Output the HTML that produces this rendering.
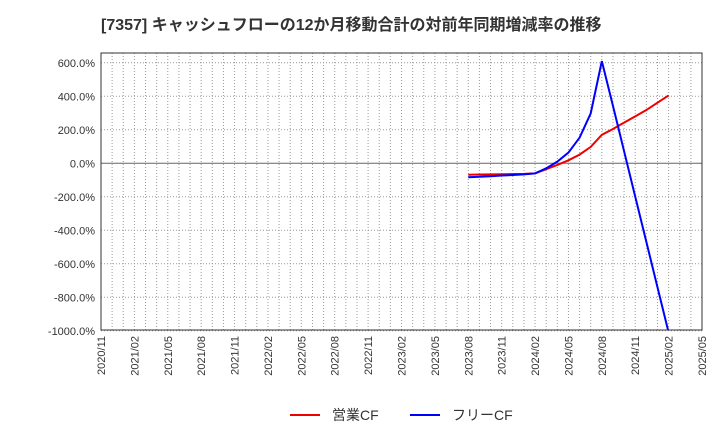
<!DOCTYPE html>
<html><head><meta charset="utf-8"><style>
body{margin:0;background:#fff;font-family:"Liberation Sans","Noto Sans CJK JP",sans-serif}
svg text{font-family:"Liberation Sans","Noto Sans CJK JP",sans-serif}
</style></head><body>
<svg id="c" width="720" height="440">
<text x="101" y="30" font-size="16" font-weight="bold" fill="#333">[7357]  キャッシュフローの12か月移動合計の対前年同期増減率の推移</text>
<g id="grid"></g><g id="axes"></g><g id="series"></g>
<rect x="101" y="53" width="601" height="277" fill="none" stroke="#333"/>
<g>
<line x1="290" y1="415" x2="320" y2="415" stroke="#e00" stroke-width="2"/>
<text x="332" y="420" font-size="14" fill="#333">営業CF</text>
<line x1="410" y1="415" x2="440" y2="415" stroke="#00f" stroke-width="2"/>
<text x="452" y="420" font-size="14" fill="#333">フリーCF</text>
</g>
</svg>
<script>
const yTicks=[600,400,200,0,-200,-400,-600,-800,-1000];
const xLabels=["2020/11","2021/02","2021/05","2021/08","2021/11","2022/02","2022/05","2022/08","2022/11","2023/02","2023/05","2023/08","2023/11","2024/02","2024/05","2024/08","2024/11","2025/02","2025/05"];
const startMonth=33;
const opCF=[-68,-67,-66,-65,-64,-63,-60,-35,-10,18,52,98,170,205,243,280,318,362,405];
const freeCF=[-83,-80,-77,-73,-70,-66,-60,-30,10,64,153,298,610,343,72,-199,-469,-740,-1010];
const X0=101,X1=702,Y0=53,Y1=330;
const x=m=>X0+(X1-X0)*m/54;
const y=v=>163.3-v*(33.5/200);
const ns="http://www.w3.org/2000/svg";
function mk(t,a,p){const e=document.createElementNS(ns,t);for(const k in a)e.setAttribute(k,a[k]);p.appendChild(e);return e;}
const g=document.getElementById('grid'),ax=document.getElementById('axes'),s=document.getElementById('series');
for(let m=1;m<54;m++){const l=mk('line',{x1:x(m),x2:x(m),y1:Y0,y2:Y1,stroke:'#999','stroke-dasharray':'1,2'},g);

}
yTicks.forEach(v=>{const l=mk('line',{x1:X0,x2:X1,y1:y(v),y2:y(v),stroke:v===0?'#666':'#999','stroke-dasharray':v===0?'':'1,2'},g);


const t=mk('text',{x:X0-6,y:y(v)+4,'text-anchor':'end','font-size':11,fill:'#333'},ax);t.textContent=v.toFixed(1)+'%';

});
xLabels.forEach((lb,i)=>{const xx=x(i*3);const t=mk('text',{x:xx+4,y:336,'text-anchor':'end','font-size':11,fill:'#333',transform:`rotate(-90 ${xx+4} 336)`},ax);t.textContent=lb;

});
function line(d,c,n){const p=mk('polyline',{points:d.map((v,i)=>x(startMonth+i)+','+y(v)).join(' '),fill:'none',stroke:c,'stroke-width':2},s);

}
const cp=mk('clipPath',{id:'cl'},document.getElementById('c'));mk('rect',{x:X0,y:Y0,width:X1-X0,height:Y1-Y0},cp);
s.setAttribute('clip-path','url(#cl)');
line(opCF,'#e00','operating-cf-line');
line(freeCF,'#00f','free-cf-line');
</script>
</body></html>
